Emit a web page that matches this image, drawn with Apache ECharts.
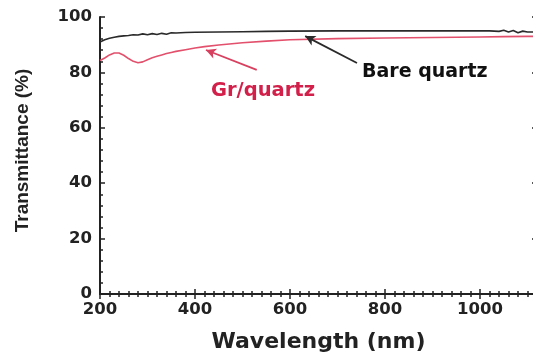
<!DOCTYPE html>
<html>
<head>
<meta charset="utf-8">
<script src="https://cdn.jsdelivr.net/npm/echarts@6/dist/echarts.min.js"></script>
<style>html,body{margin:0;padding:0;background:#fff;}#c{width:533px;height:358px;}</style>
</head>
<body>
<div id="c"></div>
<script>
// Wavelength grid (nm) and transmittance (%)
var wlBare = [200,210,220,230,240,250,260,270,280,290,300,310,320,330,340,350,360,380,400,450,500,550,600,700,800,900,1000,1020,1040,1050,1060,1070,1080,1090,1100,1120];
var bareQuartz = [91.0,91.8,92.3,92.7,93.0,93.2,93.3,93.6,93.5,93.9,93.6,94.0,93.7,94.1,93.8,94.3,94.2,94.4,94.5,94.6,94.7,94.8,94.9,95.0,95.0,95.0,95.0,95.0,94.8,95.2,94.6,95.1,94.3,94.9,94.6,94.6];
var wlGr = [200,210,220,230,240,250,260,270,280,290,300,310,320,330,340,350,360,380,400,420,450,500,550,600,700,800,900,1000,1050,1100,1120];
var grQuartz = [84.3,85.2,86.3,87.0,87.0,86.2,85.0,84.0,83.5,83.8,84.6,85.3,85.8,86.3,86.8,87.2,87.6,88.2,88.8,89.3,89.9,90.7,91.3,91.8,92.2,92.4,92.6,92.8,92.9,93.0,93.0];
var xTicks = [200,400,600,800,1000];
var yTicks = [0,20,40,60,80,100];
// annotation arrows in data units: [tail, tip]
var bareArrow = [[741,83.4],[632,93.1]];
var grArrow = [[530,80.9],[423,88.1]];

function zip(a,b){return a.map(function(v,i){return [v,b[i]];});}

var chart = echarts.init(document.getElementById('c'));
var axisCol = '#222';
var tickFont = {fontFamily:'DejaVu Sans', fontWeight:'bold', fontSize:16.5, color:'#222'};
chart.setOption({
  animation:false,
  backgroundColor:'#fff',
  grid:{left:100, width:437, top:17, height:277, outerBoundsMode:'none', containLabel:false},
  xAxis:[{
    type:'value', min:200, max:1120, interval:200, position:'bottom',
    name:'Wavelength (nm)', nameLocation:'middle', nameGap:37,
    nameTextStyle:{fontFamily:'DejaVu Sans', fontWeight:'bold', fontSize:22, color:'#222'},
    axisLine:{lineStyle:{color:axisCol, width:2}},
    axisTick:{inside:true, length:5, lineStyle:{color:axisCol, width:1.5}},
    minorTick:{show:true, splitNumber:10, length:3, lineStyle:{color:axisCol, width:1.5}},
    axisLabel:Object.assign({margin:7, formatter:function(v){return xTicks.indexOf(v)>=0?String(v):'';}}, tickFont),
    splitLine:{show:false}
  },{
    type:'value', min:200, max:1120, interval:200, position:'top',
    axisLine:{lineStyle:{color:axisCol, width:2}},
    axisTick:{inside:true, length:5, lineStyle:{color:axisCol, width:1.5}},
    minorTick:{show:true, splitNumber:10, length:3, lineStyle:{color:axisCol, width:1.5}},
    axisLabel:{show:false}, splitLine:{show:false}
  }],
  yAxis:[{
    type:'value', min:0, max:100, interval:20, position:'left',
    name:'Transmittance (%)', nameLocation:'middle', nameGap:68, nameRotate:90,
    nameTextStyle:{fontFamily:'Liberation Sans', fontWeight:'bold', fontSize:19, color:'#222', padding:[0,0,0,10]},
    axisLine:{lineStyle:{color:axisCol, width:2}},
    axisTick:{inside:true, length:5, lineStyle:{color:axisCol, width:1.5}},
    minorTick:{show:true, splitNumber:5, length:3, lineStyle:{color:axisCol, width:1.5}},
    axisLabel:Object.assign({margin:8, formatter:function(v){return yTicks.indexOf(v)>=0?String(v):'';}}, tickFont),
    splitLine:{show:false}
  },{
    type:'value', min:0, max:100, interval:20, position:'right',
    axisLine:{lineStyle:{color:axisCol, width:2}},
    axisTick:{inside:true, length:5, lineStyle:{color:axisCol, width:1.5}},
    axisLabel:{show:false}, splitLine:{show:false}
  }],
  series:[{
    name:'Bare quartz', type:'line', data:zip(wlBare,bareQuartz), showSymbol:false,
    lineStyle:{color:'#2a2a2a', width:1.6}, z:3,
    markLine:{silent:true, symbol:['none','arrow'], symbolSize:[8,10], label:{show:false},
      lineStyle:{color:'#2a2a2a', width:1.8, type:'solid'},
      data:[[{coord:bareArrow[0]},{coord:bareArrow[1]}]]}
  },{
    name:'Gr/quartz', type:'line', data:zip(wlGr,grQuartz), showSymbol:false,
    lineStyle:{color:'#e2506c', width:1.6}, z:2,
    markLine:{silent:true, symbol:['none','arrow'], symbolSize:[8,10], label:{show:false},
      lineStyle:{color:'#d8405f', width:1.8, type:'solid'},
      data:[[{coord:grArrow[0]},{coord:grArrow[1]}]]}
  }],
  graphic:[
    {type:'text', left:362, top:63, style:{text:'Bare quartz', font:'bold 19px "DejaVu Sans"', fill:'#111'}},
    {type:'text', left:211, top:81, style:{text:'Gr/quartz', font:'bold 19.5px "DejaVu Sans"', fill:'#d3204a'}}
  ]
});
</script>
</body>
</html>
